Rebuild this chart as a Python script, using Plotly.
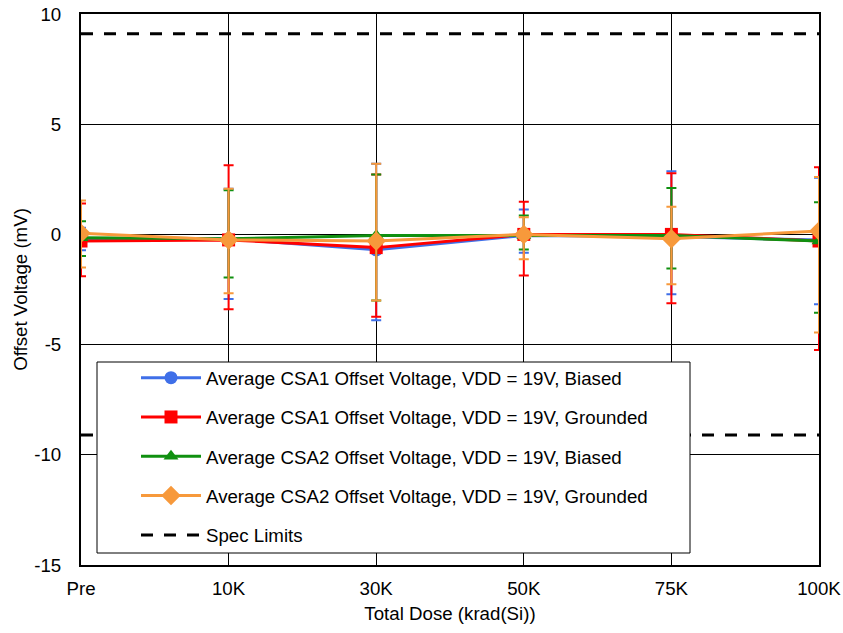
import plotly.graph_objects as go

categories = ["Pre", "10K", "30K", "50K", "75K", "100K"]

# means (mV)
csa1_biased = [-0.25, -0.20, -0.70, -0.05, -0.10, -0.25]
csa1_grounded = [-0.30, -0.25, -0.60, 0.00, 0.00, -0.30]
csa2_biased = [-0.15, -0.20, -0.05, -0.05, -0.05, -0.30]
csa2_grounded = [0.05, -0.25, -0.30, 0.00, -0.20, 0.15]

# error bar extremes (max / min) in mV
csa1_biased_max = [0.30, 2.07, 3.20, 1.13, 2.87, 2.57]
csa1_biased_min = [-0.72, -2.93, -3.90, -0.83, -2.72, -3.17]
csa1_grounded_max = [1.40, 3.14, 2.72, 1.48, 2.78, 3.05]
csa1_grounded_min = [-1.90, -3.40, -3.74, -1.86, -3.12, -5.25]
csa2_biased_max = [0.60, 2.00, 2.72, 0.86, 2.11, 1.46]
csa2_biased_min = [-0.98, -1.96, -3.00, -0.68, -1.55, -3.55]
csa2_grounded_max = [1.54, 2.07, 3.20, 0.78, 1.25, 2.60]
csa2_grounded_min = [-1.50, -2.67, -3.00, -1.13, -2.26, -4.45]

spec_upper = [9.1, 9.1, 9.1, 9.1, 9.1, 9.1]
spec_lower = [-9.1, -9.1, -9.1, -9.1, -9.1, -9.1]

y_tick_vals = [10, 5, 0, -5, -10, -15]
y_tick_text = ["10", "5", "0", "-5", "-10", "-15"]

FONT = "Liberation Sans, Arial, sans-serif"
FS = 18.7

fig = go.Figure()

# spec limits (drawn first, beneath)
fig.add_trace(go.Scatter(x=categories, y=spec_upper, mode="lines",
                         line=dict(color="black", width=3, dash="12px,11px"),
                         name="Spec Limits", legendgroup="g5", legendrank=5))
fig.add_trace(go.Scatter(x=categories, y=spec_lower, mode="lines",
                         line=dict(color="black", width=3, dash="12px,11px"),
                         name="Spec Limits", showlegend=False, legendgroup="g5"))

series = [
    ("Average CSA1 Offset Voltage, VDD = 19V, Biased", csa1_biased, csa1_biased_max, csa1_biased_min, "#3F6FE8", "circle", 13),
    ("Average CSA1 Offset Voltage, VDD = 19V, Grounded", csa1_grounded, csa1_grounded_max, csa1_grounded_min, "#FF0000", "square", 13),
    ("Average CSA2 Offset Voltage, VDD = 19V, Biased", csa2_biased, csa2_biased_max, csa2_biased_min, "#109010", "triangle-up", 13),
    ("Average CSA2 Offset Voltage, VDD = 19V, Grounded", csa2_grounded, csa2_grounded_max, csa2_grounded_min, "#F7993B", "diamond", 15),
]

for i, (name, mean, hi, lo, color, sym, size) in enumerate(series):
    plus = [h - m for h, m in zip(hi, mean)]
    minus = [m - l for l, m in zip(lo, mean)]
    fig.add_trace(go.Scatter(
        x=categories, y=mean, mode="lines+markers", name=name,
        legendgroup=f"g{i}", legendrank=i + 1,
        line=dict(color=color, width=3),
        marker=dict(color=color, symbol=sym, size=size),
        error_y=dict(type="data", symmetric=False, array=plus, arrayminus=minus,
                     color=color, thickness=2, width=5),
    ))

# legend box
fig.add_shape(type="rect", xref="paper", yref="paper",
              x0=(97 - 81) / 738, x1=(690 - 81) / 738,
              y0=(565 - 553) / 551, y1=(565 - 362) / 551,
              line=dict(color="black", width=1), fillcolor="white", layer="above")

fig.update_layout(
    width=843, height=633,
    margin=dict(l=81, r=24, t=14, b=68),
    plot_bgcolor="white", paper_bgcolor="white",
    font=dict(family=FONT, size=FS, color="black"),
    showlegend=True,
    legend=dict(x=(136 - 81) / 738, y=(565 - 359) / 551, xanchor="left", yanchor="top",
                bgcolor="rgba(0,0,0,0)", borderwidth=0,
                font=dict(family=FONT, size=FS, color="black"),
                itemwidth=60, tracegroupgap=12, traceorder="grouped"),
    xaxis=dict(
        type="category", range=[0, 5], automargin=False,
        showgrid=True, gridcolor="black", gridwidth=1,
        showline=True, linecolor="black", linewidth=2, mirror=True,
        ticks="outside", ticklen=6, tickcolor="rgba(0,0,0,0)", tickfont=dict(size=FS),
        ticklabeloverflow="allow",
        title=dict(text="Total Dose (krad(Si))", font=dict(size=FS), standoff=8),
    ),
    yaxis=dict(
        range=[-15, 10], tickvals=y_tick_vals, ticktext=y_tick_text, automargin=False,
        showgrid=True, gridcolor="black", gridwidth=1, zeroline=False,
        showline=True, linecolor="black", linewidth=2, mirror=True,
        ticks="outside", ticklen=14, tickcolor="rgba(0,0,0,0)",
        tickfont=dict(size=FS), ticklabeloverflow="allow",
        title=dict(text="Offset Voltage (mV)", font=dict(size=FS), standoff=2),
    ),
)

# remove the default 8px page margin so the figure fills the window exactly
fig.write_html("out.html", config={"displayModeBar": False},
               post_script="document.body.style.margin='0';")
